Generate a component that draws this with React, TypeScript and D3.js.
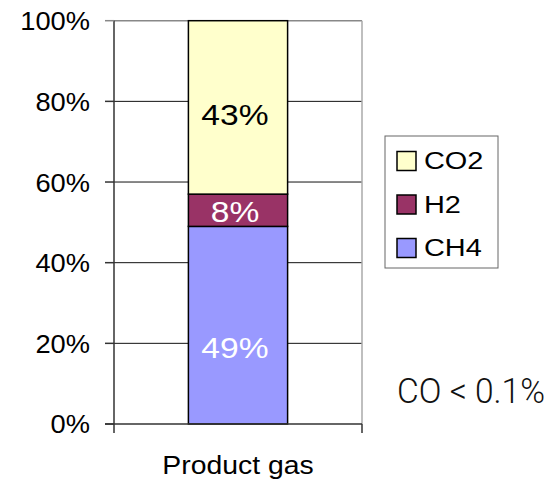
import React from "react";
import * as d3 from "d3";

const categories = ["Product gas"];
const seriesNames = ["CH4", "H2", "CO2"];
const seriesValues = [49, 8, 43];
const seriesColors = ["#9999FF", "#993366", "#FFFFCC"];
const labelColors = ["#FFFFFF", "#FFFFFF", "#000000"];
const labelDy = [33, 12, 18];
const yTicks = [0, 20, 40, 60, 80, 100];
const legendOrder = ["CO2", "H2", "CH4"];
const note = "CO < 0.1%";

const W = 551, H = 480;
const M = { left: 114, right: 362, top: 20.7, bottom: 424 };

export default function App() {
  const y = d3.scaleLinear().domain([0, 100]).range([M.bottom, M.top]);
  const x = d3.scaleBand<string>().domain(categories).range([M.left, M.right]).paddingInner(0).paddingOuter(0.75);
  const stackData = [Object.fromEntries(seriesNames.map((n, i) => [n, seriesValues[i]]))];
  const stacked = d3.stack<any>().keys(seriesNames)(stackData as any);
  const bx = x(categories[0])!;
  const bw = x.bandwidth();
  const font = "'Liberation Sans', Arial, sans-serif";

  return (
    <svg width={W} height={H} style={{ position: "absolute", left: 0, top: 0, background: "#fff" }}>
      {/* gridlines */}
      {yTicks.filter((t) => t > 0 && t < 100).map((t) => (
        <line key={t} x1={M.left} x2={M.right} y1={y(t)} y2={y(t)} stroke="#111" strokeWidth={1} />
      ))}
      {/* top & right border */}
      <line x1={M.left} x2={M.right} y1={y(100)} y2={y(100)} stroke="#888" strokeWidth={1.5} />
      <line x1={M.right} x2={M.right} y1={y(100)} y2={y(0)} stroke="#aaa" strokeWidth={1.5} />
      {/* bars */}
      {stacked.map((s, i) => (
        <rect key={s.key} x={bx} width={bw} y={y(s[0][1])} height={y(s[0][0]) - y(s[0][1])}
          fill={seriesColors[i]} stroke="#000" strokeWidth={1.5} />
      ))}
      {/* axes */}
      <line x1={M.left} x2={M.left} y1={y(100)} y2={y(0) + 9} stroke="#333" strokeWidth={1.5} />
      <line x1={M.left - 9} x2={M.right} y1={y(0)} y2={y(0)} stroke="#333" strokeWidth={1.5} />
      <line x1={M.right} x2={M.right} y1={y(0)} y2={y(0) + 9} stroke="#333" strokeWidth={1.5} />
      {yTicks.map((t) => (
        <g key={t}>
          <line x1={M.left - 9} x2={M.left} y1={y(t)} y2={y(t)} stroke={t === 100 ? "#888" : "#333"} strokeWidth={1.5} />
          <text x={90} y={y(t) + 9.5} textAnchor="end" fontFamily={font} fontSize={25.5}
            transform={`translate(90,0) scale(1.07,1) translate(-90,0)`} fill="#000">{t}%</text>
        </g>
      ))}
      {/* category label */}
      <text x={238} y={474} textAnchor="middle" fontFamily={font} fontSize={26.5} fill="#000"
        transform="translate(238,0) scale(1.07,1) translate(-238,0)">{categories[0]}</text>
      {/* data labels */}
      {stacked.map((s, i) => {
        const cx = bx + bw / 2 - 3;
        const cy = y((s[0][0] + s[0][1]) / 2) + labelDy[i];
        return (
          <text key={s.key} x={cx} y={cy} textAnchor="middle" fontFamily={font} fontSize={30}
            fill={labelColors[i]} transform={`translate(${cx},0) scale(1.12,1) translate(${-cx},0)`}>
            {seriesValues[i]}%
          </text>
        );
      })}
      {/* legend */}
      <rect x={385} y={136} width={113} height={132} fill="#fff" stroke="#666" strokeWidth={1} />
      {legendOrder.map((name, i) => {
        const idx = seriesNames.indexOf(name);
        const cy = 161 + i * 43.5;
        return (
          <g key={name}>
            <rect x={397} y={cy - 9.5} width={19} height={19} fill={seriesColors[idx]} stroke="#000" strokeWidth={1.5} />
            <text x={424} y={cy + 8.5} fontFamily={font} fontSize={24.5} fill="#000"
              transform="translate(424,0) scale(1.18,1) translate(-424,0)">{name}</text>
          </g>
        );
      })}
      <text x={397} y={403} fontFamily="Roboto, sans-serif" fontWeight={300} fontSize={35} fill="#111"
        textLength={148} lengthAdjust="spacingAndGlyphs">{note}</text>
    </svg>
  );
}
